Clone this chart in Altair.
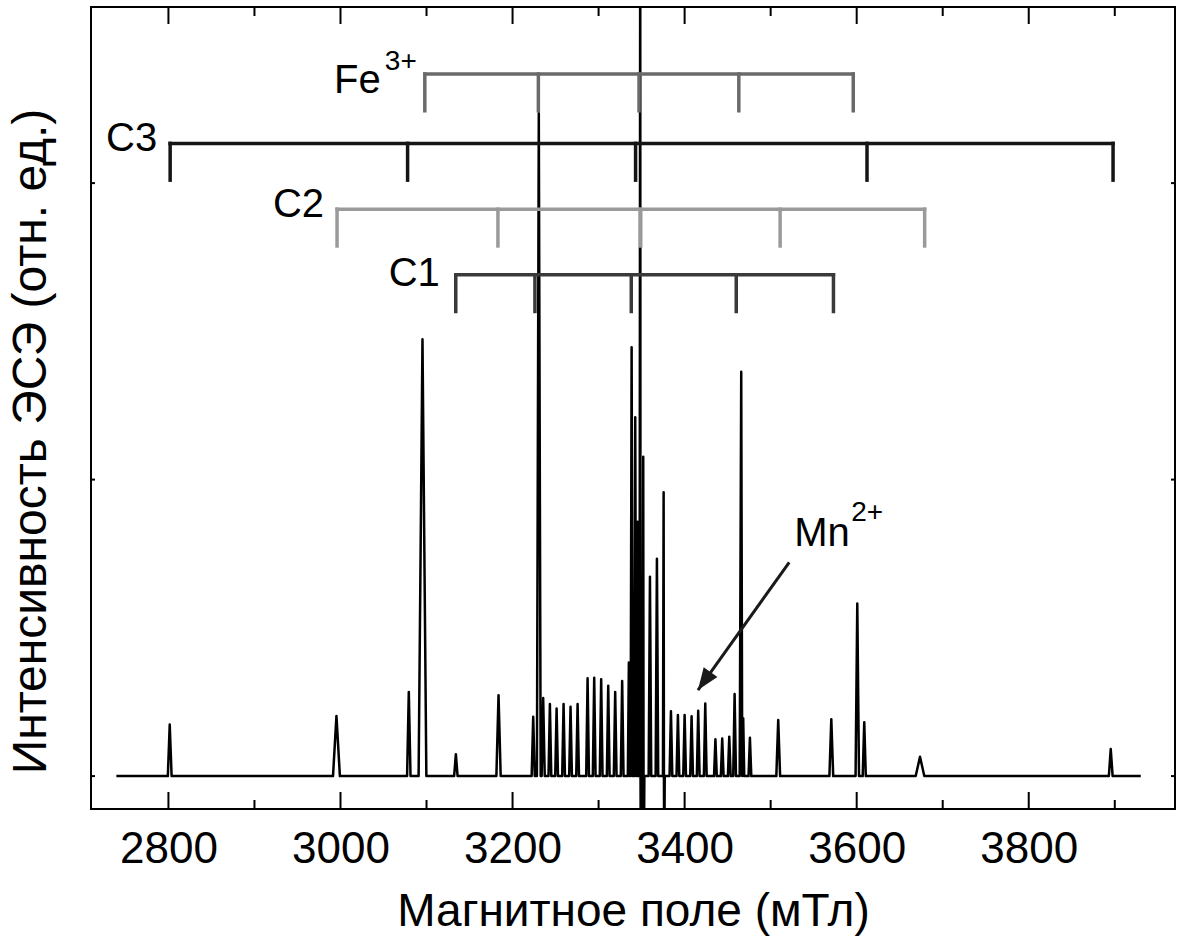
import altair as alt
import pandas as pd

FONT = "Liberation Sans"

# ---------------- data ----------------
# EPR spectrum: peak positions (mT), heights (rel. units), half-widths at base (mT)
peak_field = [2801.5, 2995.3, 3079.4, 3095.3, 3134.1, 3183.7, 3224.0, 3230.5, 3235.6,
              3243.4, 3251.2, 3259.3, 3267.4, 3275.6, 3287.2, 3294.9, 3303.0, 3311.2,
              3319.3, 3327.4, 3335.2, 3338.4, 3342.6, 3345.3, 3348.4, 3349.1, 3351.9,
              3352.6, 3359.7, 3367.8, 3375.6, 3376.3, 3384.1, 3392.2, 3400.0, 3408.1,
              3415.8, 3424.0, 3435.8, 3443.7, 3451.9, 3458.1, 3465.8, 3468.1, 3475.9,
              3508.8, 3570.5, 3600.7, 3608.8, 3673.6, 3895.3]
peak_height = [0.174, 0.203, 0.284, 1.473, 0.074, 0.273, 0.200, 2.236, 0.263,
               0.243, 0.228, 0.243, 0.234, 0.243, 0.330, 0.332, 0.327, 0.305,
               0.284, 0.321, 0.383, 1.446, 1.210, 0.858, 3.000, -0.300, 1.077,
               -0.300, 0.672, 0.733, 0.957, -0.300, 0.219, 0.206, 0.206, 0.202,
               0.220, 0.245, 0.124, 0.127, 0.133, 0.277, 1.364, 0.195, 0.129,
               0.189, 0.192, 0.582, 0.182, 0.065, 0.091]
peak_halfwidth = [2.2, 4.0, 2.0, 4.5, 2.0, 2.5, 1.8, 2.2, 1.8,
                  1.6, 1.6, 1.6, 1.6, 1.6, 1.6, 1.6, 1.6, 1.6,
                  1.6, 1.6, 1.2, 1.2, 1.2, 1.0, 0.8, 0.6, 0.8,
                  0.6, 1.5, 1.5, 0.8, 0.6, 1.6, 1.6, 1.6, 1.6,
                  1.6, 1.6, 1.6, 1.6, 1.6, 1.6, 1.8, 1.2, 1.6,
                  2.2, 2.2, 2.0, 1.8, 5.0, 2.2]
spectrum_start = 2739.5
spectrum_end = 3930.2

# stick diagrams (line positions, mT)
bracket_names = ["Fe", "C3", "C2", "C1"]
fe_lines = [3098, 3230, 3347, 3463, 3596]
c3_lines = [2802, 3078, 3343, 3612, 3898]
c2_lines = [2996, 3183, 3349, 3511, 3679]
c1_lines = [3134, 3226, 3338, 3460, 3573]
bracket_level = [2.368, 2.134, 1.912, 1.691]
bracket_drop = 0.124

# axis ticks
major_ticks = [2800, 3000, 3200, 3400, 3600, 3800]
minor_ticks = [2900, 3100, 3300, 3500, 3700, 3900]
y_ticks = [0, 1, 2]

# Mn2+ arrow (field, intensity)
arrow_from = [3521.6, 0.721]
arrow_to = [3415.5, 0.290]

X_DOMAIN = [2710, 3970]
Y_DOMAIN = [-0.111, 2.594]
W, H = 1084, 802

# ---------------- build spectrum vertices ----------------
vx, vy = [spectrum_start], [0.0]
n = len(peak_field)
for i in range(n):
    x, h, w = peak_field[i], peak_height[i], peak_halfwidth[i]
    left = x - w
    if i == 0 or left > peak_field[i - 1] + peak_halfwidth[i - 1]:
        vx.append(left); vy.append(0.0)
    vx.append(x); vy.append(h)
    right = x + w
    if i == n - 1 or right < peak_field[i + 1] - peak_halfwidth[i + 1]:
        vx.append(right); vy.append(0.0)
    else:
        vx.append((x + peak_field[i + 1]) / 2); vy.append(0.0)
vx.append(spectrum_end); vy.append(0.0)
spec = pd.DataFrame({"field": vx, "I": vy, "order": range(len(vx))})

xscale = alt.Scale(domain=X_DOMAIN, nice=False, zero=False)
yscale = alt.Scale(domain=Y_DOMAIN, nice=False, zero=False)

spectrum = alt.Chart(spec).mark_line(color="black", strokeWidth=2.5, clip=True,
                                     strokeJoin="round").encode(
    x=alt.X("field:Q", scale=xscale,
            axis=alt.Axis(values=major_ticks, format="d", tickSize=0, domain=False,
                          grid=False, labelFont=FONT, labelFontSize=44,
                          labelColor="black", labelPadding=18,
                          title="Магнитное поле (мТл)", titleFont=FONT,
                          titleFontSize=46, titleFontWeight="normal",
                          titleColor="black", titleY=116, titleX=W / 2,
                          titleBaseline="alphabetic")),
    y=alt.Y("I:Q", scale=yscale,
            axis=alt.Axis(labels=False, ticks=False, domain=False, grid=False,
                          title="Интенсивность ЭСЭ (отн. ед.)", titleFont=FONT,
                          titleFontSize=48, titleFontWeight="normal",
                          titleColor="black", titleX=-46, titleY=434,
                          titleAngle=270, titleBaseline="alphabetic",
                          titleAlign="center")),
    order="order:Q",
)

# ---------------- brackets ----------------
bracket_lines = [fe_lines, c3_lines, c2_lines, c1_lines]
bracket_colors = ["#6a6a6a", "#151515", "#9a9a9a", "#3a3a3a"]
layers = []
for name, lines, lev, col in zip(bracket_names, bracket_lines, bracket_level, bracket_colors):
    hdf = pd.DataFrame({"x1": [lines[0]], "x2": [lines[-1]], "y": [lev]})
    vdf = pd.DataFrame({"x": lines, "y1": [lev] * len(lines),
                        "y2": [lev - bracket_drop] * len(lines)})
    layers.append(alt.Chart(hdf).mark_rule(color=col, strokeWidth=3.5, strokeCap="square").encode(
        x=alt.X("x1:Q", scale=xscale), x2="x2:Q", y=alt.Y("y:Q", scale=yscale)))
    layers.append(alt.Chart(vdf).mark_rule(color=col, strokeWidth=3.5, strokeCap="square").encode(
        x=alt.X("x:Q", scale=xscale), y=alt.Y("y1:Q", scale=yscale), y2="y2:Q"))

# bracket labels: (name, main text, superscript, dx, dy, sup dx, sup dy)
label_specs = [
    ("Fe", "Fe", "3+", -44, 19, -8, -4),
    ("C3", "C3", "", -13, 8, 0, 0),
    ("C2", "C2", "", -13, 8, 0, 0),
    ("C1", "C1", "", -16, 11, 0, 0),
]
label_layers = []
for name, txt, sup, dx, dy, sdx, sdy in label_specs:
    i = bracket_names.index(name)
    df = pd.DataFrame({"x": [bracket_lines[i][0]], "y": [bracket_level[i]],
                       "t": [txt], "s": [sup]})
    label_layers.append(alt.Chart(df).mark_text(font=FONT, fontSize=40, color="black",
                                                align="right", baseline="alphabetic",
                                                dx=dx, dy=dy).encode(
        x=alt.X("x:Q", scale=xscale), y=alt.Y("y:Q", scale=yscale), text="t:N"))
    if sup:
        label_layers.append(alt.Chart(df).mark_text(font=FONT, fontSize=28, color="black",
                                                    align="right", baseline="alphabetic",
                                                    dx=sdx, dy=sdy).encode(
            x=alt.X("x:Q", scale=xscale), y=alt.Y("y:Q", scale=yscale), text="s:N"))

# ---------------- Mn2+ arrow ----------------
adf = pd.DataFrame({"x1": [arrow_from[0]], "y1": [arrow_from[1]],
                    "x2": [arrow_to[0]], "y2": [arrow_to[1]],
                    "t": ["Mn"], "s": ["2+"]})
arrow_line = alt.Chart(adf).mark_rule(color="#1a1a1a", strokeWidth=3).encode(
    x=alt.X("x1:Q", scale=xscale), y=alt.Y("y1:Q", scale=yscale), x2="x2:Q", y2="y2:Q")
arrow_head = alt.Chart(adf).mark_point(shape="M0,0L-0.42,1.1L0.42,1.1Z", filled=True,
                                       color="#1a1a1a", opacity=1, size=1600,
                                       angle=215, strokeWidth=0).encode(
    x=alt.X("x2:Q", scale=xscale), y=alt.Y("y2:Q", scale=yscale))
mn_text = alt.Chart(adf).mark_text(font=FONT, fontSize=40, color="black", align="left",
                                   baseline="alphabetic", dx=5, dy=-16).encode(
    x=alt.X("x1:Q", scale=xscale), y=alt.Y("y1:Q", scale=yscale), text="t:N")
mn_sup = alt.Chart(adf).mark_text(font=FONT, fontSize=28, color="black", align="left",
                                  baseline="alphabetic", dx=62, dy=-41).encode(
    x=alt.X("x1:Q", scale=xscale), y=alt.Y("y1:Q", scale=yscale), text="s:N")

# ---------------- inward ticks ----------------
mj = pd.DataFrame({"x": major_ticks})
mn = pd.DataFrame({"x": minor_ticks})
yt = pd.DataFrame({"y": y_ticks})
tick_layers = [
    alt.Chart(mj).mark_rule(color="black", strokeWidth=2).encode(
        x=alt.X("x:Q", scale=xscale), y=alt.value(H), y2=alt.value(H - 17)),
    alt.Chart(mn).mark_rule(color="black", strokeWidth=2).encode(
        x=alt.X("x:Q", scale=xscale), y=alt.value(H), y2=alt.value(H - 9)),
    alt.Chart(mj).mark_rule(color="black", strokeWidth=2).encode(
        x=alt.X("x:Q", scale=xscale), y=alt.value(0), y2=alt.value(17)),
    alt.Chart(mn).mark_rule(color="black", strokeWidth=2).encode(
        x=alt.X("x:Q", scale=xscale), y=alt.value(0), y2=alt.value(9)),
    alt.Chart(yt).mark_rule(color="black", strokeWidth=2).encode(
        y=alt.Y("y:Q", scale=yscale), x=alt.value(0), x2=alt.value(4)),
    alt.Chart(yt).mark_rule(color="black", strokeWidth=2).encode(
        y=alt.Y("y:Q", scale=yscale), x=alt.value(W), x2=alt.value(W - 4)),
]

chart = alt.layer(
    spectrum, *layers, *label_layers, arrow_line, arrow_head, mn_text, mn_sup, *tick_layers
).properties(
    width=W, height=H,
    autosize=alt.AutoSizeParams(type="none"),
    padding={"left": 91, "top": 7, "right": 3, "bottom": 130},
    background="white",
).configure_view(
    stroke="black", strokeWidth=2
)

chart.save("out.html", embed_options={"renderer": "svg", "actions": False})
